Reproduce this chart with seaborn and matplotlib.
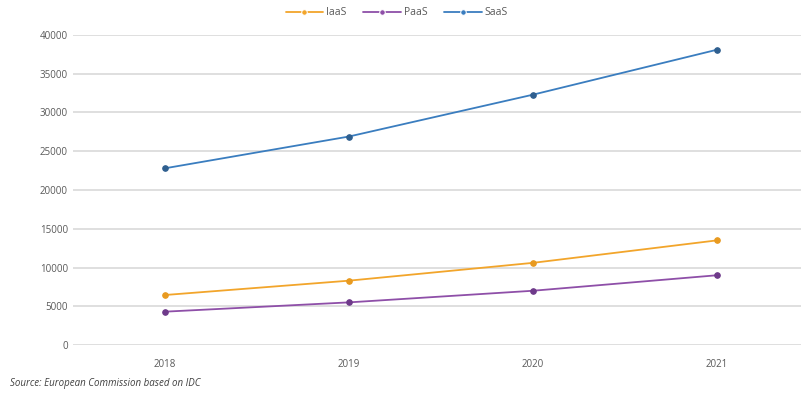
import pandas as pd
import matplotlib
matplotlib.use("Agg")
import matplotlib.pyplot as plt
import seaborn as sns

# data
years = ["2018", "2019", "2020", "2021"]
iaas = [6450, 8300, 10600, 13500]
paas = [4300, 5500, 7000, 9000]
saas = [22800, 26900, 32300, 38100]
series = ["IaaS", "PaaS", "SaaS"]

df = pd.DataFrame({"year": years * 3,
                   "value": iaas + paas + saas,
                   "service": [s for s in series for _ in years]})

sns.set_style("white")
plt.rcParams["font.family"] = ["Open Sans", "DejaVu Sans"]

palette = {"IaaS": "#F2A52B", "PaaS": "#8E4FA8", "SaaS": "#3A7DBF"}

fig = plt.figure(figsize=(8.01, 4.0), dpi=100)
ax = fig.add_axes([0.091, 0.1375, 0.919, 0.775])

g = sns.lineplot(data=df, x="year", y="value", hue="service", palette=palette,
                 marker="o", markersize=4, linewidth=1.3, ax=ax)
for line, c in zip(ax.get_lines(), ["#E89A20", "#6E3A8A", "#2F5F8F"]):
    line.set_markerfacecolor(c)
    line.set_markeredgecolor(c)

ax.set_ylim(0, 40000)
ax.set_yticks(range(0, 40001, 5000))
ax.set_xlim(-0.5, 3.5)
ax.grid(axis="y", color="#D9D9D9", linewidth=1.2)
ax.set_axisbelow(True)
for s in ax.spines.values():
    s.set_visible(False)
ax.tick_params(axis="both", labelsize=7, colors="#595959", length=0)
ax.tick_params(axis="x", pad=10)
ax.set_xlabel("")
ax.set_ylabel("")

leg = ax.legend(loc="upper center", bbox_to_anchor=(0.44, 1.12), ncol=3,
                frameon=False, fontsize=7.5, handlelength=3.6,
                columnspacing=1.6, handletextpad=0.3)
for t in leg.get_texts():
    t.set_color("#595959")
for h in leg.legend_handles:
    h.set_markersize(4)

fig.text(0.012, 0.035, "Source: European Commission based on IDC",
         fontsize=7, style="italic", color="#404040")

fig.savefig("out.png", dpi=100)
